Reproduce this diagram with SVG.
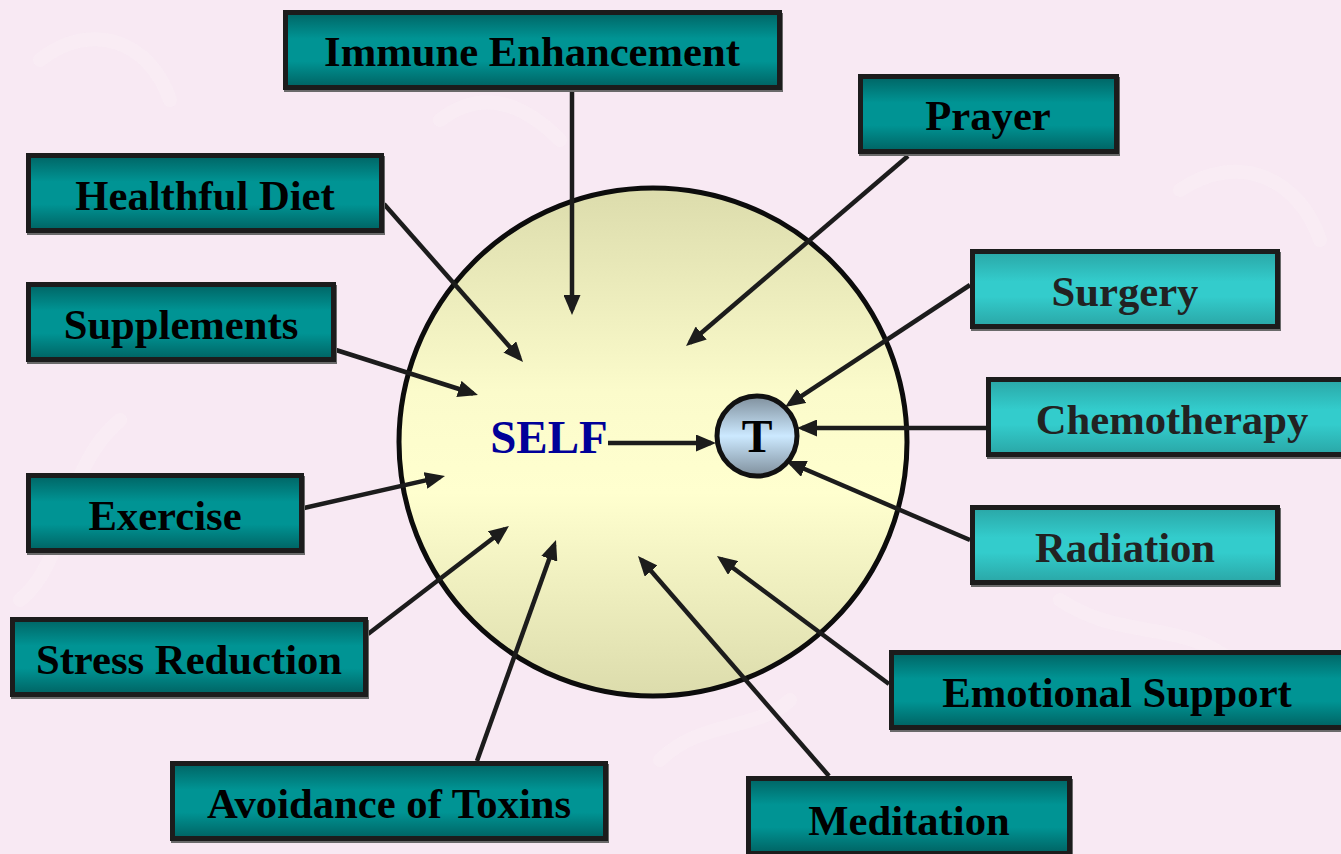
<svg xmlns="http://www.w3.org/2000/svg" width="1341" height="854" viewBox="0 0 1341 854">
<defs>
<linearGradient id="gDark" x1="0" y1="0" x2="0" y2="1">
<stop offset="0" stop-color="#006464"/>
<stop offset="0.35" stop-color="#009494"/>
<stop offset="0.65" stop-color="#009494"/>
<stop offset="1" stop-color="#006262"/>
</linearGradient>
<linearGradient id="gLight" x1="0" y1="0" x2="0" y2="1">
<stop offset="0" stop-color="#2aa6a6"/>
<stop offset="0.4" stop-color="#33cccc"/>
<stop offset="0.6" stop-color="#33cccc"/>
<stop offset="1" stop-color="#2aa6a6"/>
</linearGradient>
<linearGradient id="gSelf" x1="0" y1="0" x2="0" y2="1">
<stop offset="0" stop-color="#dcdcac"/>
<stop offset="0.4" stop-color="#fbfbcb"/>
<stop offset="0.6" stop-color="#ffffcf"/>
<stop offset="1" stop-color="#dcdcac"/>
</linearGradient>
<linearGradient id="gT" x1="0" y1="0" x2="0" y2="1">
<stop offset="0" stop-color="#7f8f9c"/>
<stop offset="0.5" stop-color="#cce9ff"/>
<stop offset="1" stop-color="#7f8f9c"/>
</linearGradient>
<marker id="ah" markerUnits="userSpaceOnUse" markerWidth="20" markerHeight="17" refX="15" refY="8.5" orient="auto">
<path d="M0,0 L20,8.5 L0,17 z" fill="#1c1c1c"/>
</marker>
<style>
.box{stroke:#1c1c1c;stroke-width:5}
.dark{fill:url(#gDark)}
.light{fill:url(#gLight)}
.shadow{fill:#6a6a6a}
.lbl{font-family:"Liberation Serif","Times New Roman",serif;font-weight:bold;font-size:42.67px;text-anchor:middle}
.ld{fill:#000}
.ll{fill:#222}
.conn line{stroke:#1c1c1c;stroke-width:4.5;marker-end:url(#ah)}
</style>
</defs>
<rect width="1341" height="854" fill="#f8e9f3"/>
<g opacity="0.3" fill="none" stroke="#fdf6fa" stroke-width="14" stroke-linecap="round">
<path d="M40,60 C90,20 150,40 170,100"/>
<path d="M120,420 C60,470 70,560 20,600"/>
<path d="M1180,190 C1240,150 1300,180 1320,240"/>
<path d="M1060,600 C1120,640 1180,620 1230,660"/>
<path d="M660,760 C700,720 760,730 790,700"/>
<path d="M440,120 C480,90 520,100 560,140"/>
</g>
<g id="self">
<circle cx="653" cy="442" r="254" fill="url(#gSelf)" stroke="#0c0c0c" stroke-width="5"/>
<text x="549" y="453" font-family="'Liberation Serif','Times New Roman',serif" font-weight="bold" font-size="47" fill="#000099" text-anchor="middle">SELF</text>
</g>
<g id="connectors" class="conn">
<line x1="572" y1="92" x2="572" y2="310"/>
<line x1="384" y1="204" x2="519.7" y2="358.2"/>
<line x1="336" y1="350" x2="473.2" y2="393.5"/>
<line x1="908" y1="156" x2="689.8" y2="342.7"/>
<line x1="970" y1="285" x2="789.2" y2="404.2"/>
<line x1="986" y1="428" x2="802" y2="428"/>
<line x1="970" y1="540" x2="790.6" y2="463"/>
<line x1="608" y1="443" x2="711" y2="443"/>
<line x1="304" y1="508" x2="440.1" y2="477.1"/>
<line x1="368" y1="634" x2="505" y2="529"/>
<line x1="477" y1="761" x2="554.3" y2="544.7"/>
<line x1="829" y1="776" x2="641.3" y2="559.8"/>
<line x1="889" y1="684" x2="721" y2="559"/>
</g>
<g id="tumor">
<circle cx="757" cy="436" r="40" fill="url(#gT)" stroke="#111" stroke-width="5"/>
<text x="757" y="452" font-family="'Liberation Serif','Times New Roman',serif" font-weight="bold" font-size="46" fill="#000" text-anchor="middle">T</text>
</g>
<g id="immune">
<rect class="shadow" x="284" y="13" width="499" height="79"/>
<rect class="box dark" x="285.5" y="12.5" width="494" height="75"/>
<text class="lbl ld" x="532" y="66">Immune Enhancement</text>
</g>
<g id="prayer">
<rect class="shadow" x="859" y="77" width="261" height="79"/>
<rect class="box dark" x="860.5" y="76.5" width="256" height="75"/>
<text class="lbl ld" x="988" y="130">Prayer</text>
</g>
<g id="diet">
<rect class="shadow" x="27" y="156" width="358" height="79"/>
<rect class="box dark" x="28.5" y="155.5" width="353" height="75"/>
<text class="lbl ld" x="205" y="210">Healthful Diet</text>
</g>
<g id="supplements">
<rect class="shadow" x="27" y="285" width="310" height="79"/>
<rect class="box dark" x="28.5" y="284.5" width="305" height="75"/>
<text class="lbl ld" x="181" y="339">Supplements</text>
</g>
<g id="surgery">
<rect class="shadow" x="971" y="252" width="310" height="79"/>
<rect class="box light" x="972.5" y="251.5" width="305" height="75"/>
<text class="lbl ll" x="1125" y="306">Surgery</text>
</g>
<g id="chemo">
<rect class="shadow" x="987" y="380" width="365" height="79"/>
<rect class="box light" x="988.5" y="379.5" width="360" height="75"/>
<text class="lbl ll" x="1172" y="434">Chemotherapy</text>
</g>
<g id="radiation">
<rect class="shadow" x="971" y="508" width="310" height="79"/>
<rect class="box light" x="972.5" y="507.5" width="305" height="75"/>
<text class="lbl ll" x="1125" y="562">Radiation</text>
</g>
<g id="exercise">
<rect class="shadow" x="27" y="476" width="278" height="79"/>
<rect class="box dark" x="28.5" y="475.5" width="273" height="75"/>
<text class="lbl ld" x="165" y="530">Exercise</text>
</g>
<g id="stress">
<rect class="shadow" x="11" y="620" width="358" height="79"/>
<rect class="box dark" x="12.5" y="619.5" width="353" height="75"/>
<text class="lbl ld" x="189" y="674">Stress Reduction</text>
</g>
<g id="toxins">
<rect class="shadow" x="171" y="764" width="438" height="79"/>
<rect class="box dark" x="172.5" y="763.5" width="433" height="75"/>
<text class="lbl ld" x="389" y="818">Avoidance of Toxins</text>
</g>
<g id="emotional">
<rect class="shadow" x="890" y="653" width="465" height="79"/>
<rect class="box dark" x="891.5" y="652.5" width="460" height="75"/>
<text class="lbl ld" x="1117" y="707">Emotional Support</text>
</g>
<g id="meditation">
<rect class="shadow" x="747" y="779" width="326" height="79"/>
<rect class="box dark" x="748.5" y="778.5" width="321" height="75"/>
<text class="lbl ld" x="909" y="835">Meditation</text>
</g>
</svg>
